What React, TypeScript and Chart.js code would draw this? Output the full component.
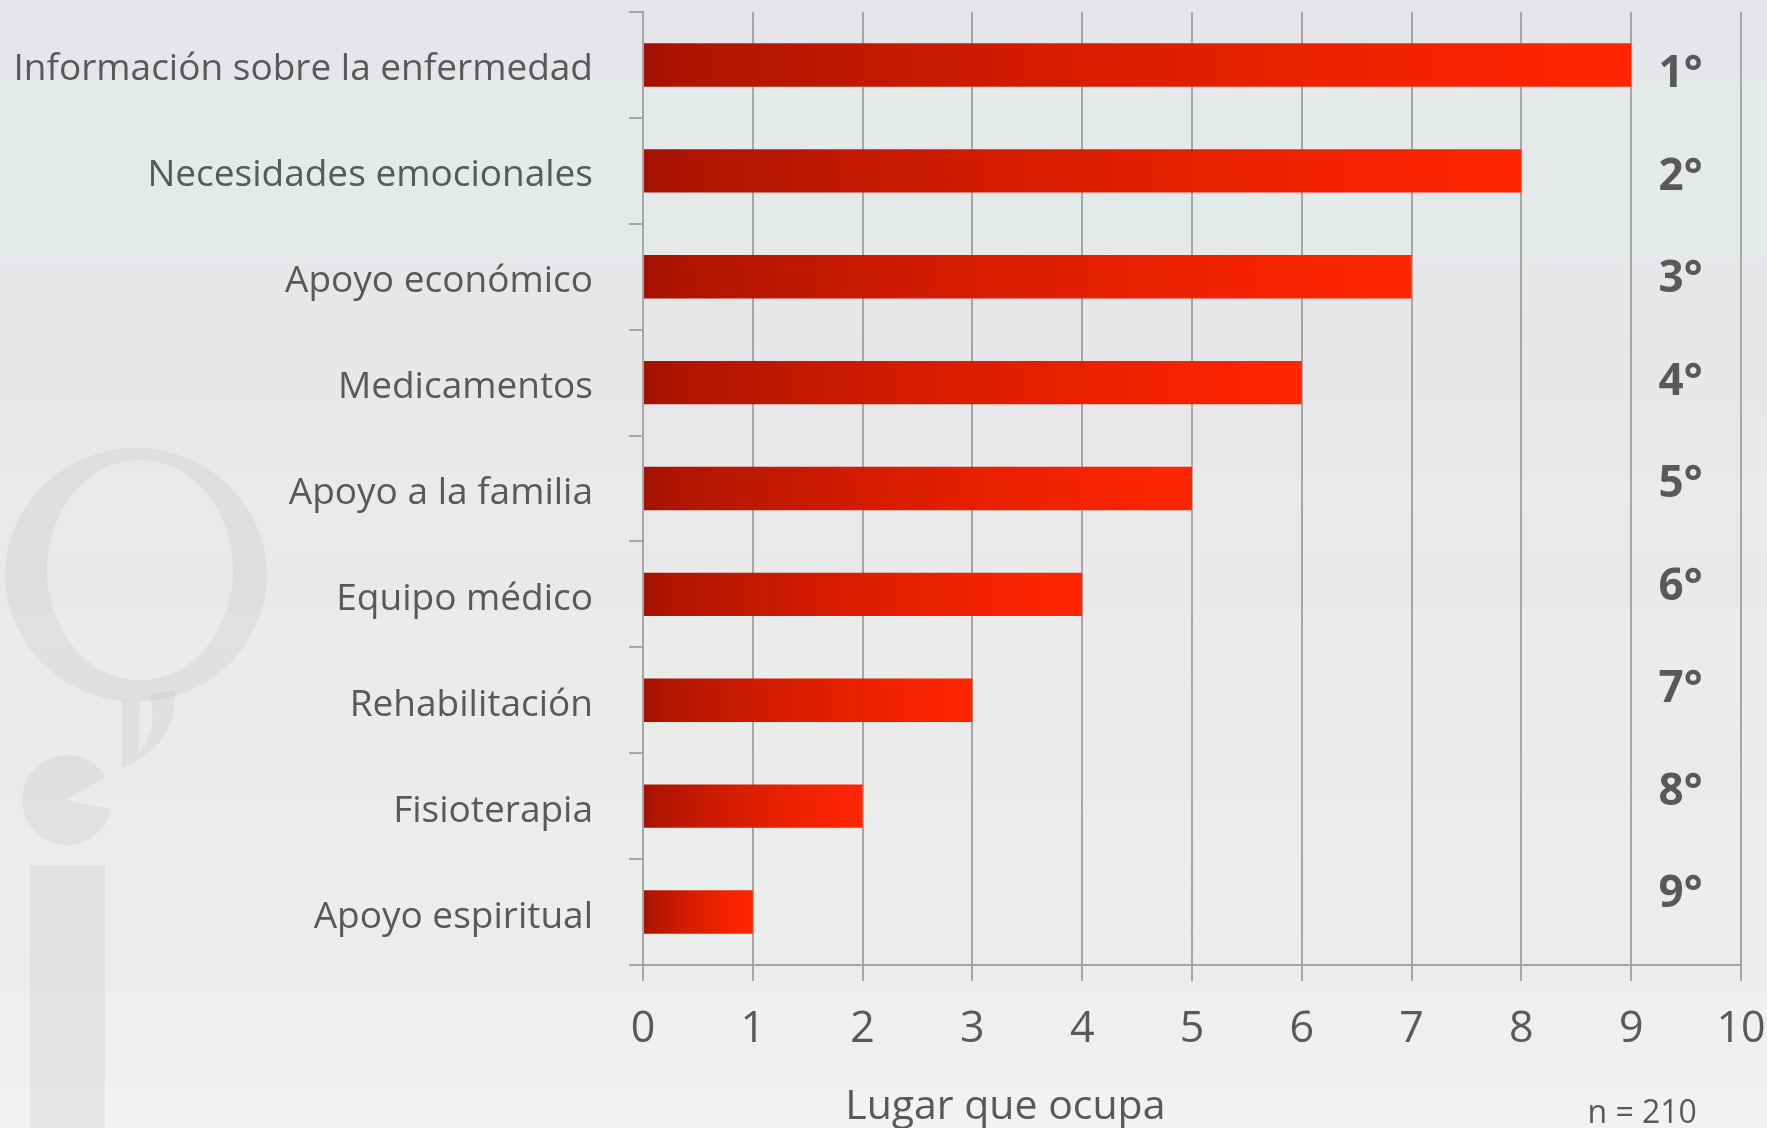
import React, { useEffect, useRef } from 'react';
import { Chart, registerables } from 'chart.js';

Chart.register(...registerables);

// ---- Data ----
const categories: string[] = [
  'Información sobre la enfermedad',
  'Necesidades emocionales',
  'Apoyo económico',
  'Medicamentos',
  'Apoyo a la familia',
  'Equipo médico',
  'Rehabilitación',
  'Fisioterapia',
  'Apoyo espiritual',
];
const values: number[] = [9, 8, 7, 6, 5, 4, 3, 2, 1];
const ranks: string[] = ['1°', '2°', '3°', '4°', '5°', '6°', '7°', '8°', '9°'];
const xMin = 0;
const xMax = 10;
const xStep = 1;
const axisTitle = 'Lugar que ocupa';
const sampleNote = 'n = 210';

const FONT = "'Open Sans', 'DejaVu Sans', sans-serif";
const TEXT = '#595959';
const GRID = '#a6a6a6';

const backgroundPlugin = {
  id: 'slideBackground',
  beforeDraw(chart: any) {
    const { ctx, width, height } = chart;
    ctx.save();
    const g = ctx.createLinearGradient(0, 0, 0, height);
    const stops: [number, string][] = [
      [0, '#e4e4e9'],
      [0.065, '#e5e5ea'],
      [0.075, '#e6e9ea'],
      [0.22, '#e6e9ea'],
      [0.235, '#e7e7ea'],
      [0.41, '#e8e8ea'],
      [0.425, '#e9eaea'],
      [0.535, '#e9e9e9'],
      [0.545, '#e9ece9'],
      [0.7, '#e9ebea'],
      [0.72, '#ebedec'],
      [0.87, '#ececec'],
      [0.885, '#efefef'],
      [0.962, '#efefef'],
      [0.966, '#f2f2f2'],
      [1, '#f2f2f2'],
    ];
    stops.forEach(([o, c]) => g.addColorStop(o, c));
    ctx.fillStyle = g;
    ctx.fillRect(0, 0, width, height);

    // faint logo (speech-bubble "i")
    ctx.fillStyle = 'rgba(0,0,0,0.045)';
    ctx.beginPath();
    ctx.ellipse(136, 575, 131, 127, 0, 0, Math.PI * 2);
    ctx.ellipse(140, 570, 93, 110, 0, 0, Math.PI * 2, true);
    ctx.fill('evenodd');
    ctx.beginPath();
    ctx.moveTo(122, 700);
    ctx.lineTo(140, 702);
    ctx.lineTo(138, 760);
    ctx.lineTo(122, 768);
    ctx.closePath();
    ctx.moveTo(175, 690);
    ctx.quadraticCurveTo(178, 745, 122, 768);
    ctx.lineTo(140, 752);
    ctx.quadraticCurveTo(158, 728, 150, 695);
    ctx.closePath();
    ctx.fill();
    ctx.beginPath();
    ctx.moveTo(67, 800);
    ctx.arc(67, 800, 45, 0.2, Math.PI * 2 - 0.55);
    ctx.closePath();
    ctx.fill();
    ctx.fillRect(30, 865, 75, 263);
    ctx.restore();
  },
};

const annotationPlugin = {
  id: 'annotations',
  afterDraw(chart: any) {
    const { ctx } = chart;
    const xs = chart.scales.x;
    const ys = chart.scales.y;
    ctx.save();
    ctx.fillStyle = TEXT;
    ctx.textAlign = 'center';
    ctx.textBaseline = 'middle';
    ctx.font = `bold 44px ${FONT}`;
    const rx = xs.getPixelForValue(9.45);
    ranks.forEach((r, i) => {
      const y = ys.getPixelForValue(i) + 10 - 3.4 * i;
      ctx.fillText(r, rx, y);
    });
    ctx.textBaseline = 'alphabetic';
    ctx.font = `41px ${FONT}`;
    ctx.fillText(axisTitle, xs.getPixelForValue(3.3), 1119);
    ctx.font = `32px ${FONT}`;
    ctx.fillText(sampleNote, xs.getPixelForValue(9.1), 1123);
    ctx.restore();
  },
};

export default function App() {
  const canvasRef = useRef<HTMLCanvasElement | null>(null);

  useEffect(() => {
    if (!canvasRef.current) return;
    const chart = new Chart(canvasRef.current, {
      type: 'bar',
      data: {
        labels: categories,
        datasets: [
          {
            data: values,
            barPercentage: 0.41,
            categoryPercentage: 1,
            borderWidth: 0,
            backgroundColor: (c: any) => {
              const ch = c.chart;
              if (!ch.chartArea || !ch.scales.x) return '#d01c00';
              const xs = ch.scales.x;
              const v = c.raw ?? 1;
              const x0 = xs.getPixelForValue(0);
              const x1 = xs.getPixelForValue(v);
              const g = ch.ctx.createLinearGradient(x0, 0, x1, 0);
              g.addColorStop(0, '#a31100');
              g.addColorStop(0.06, '#b01500');
              g.addColorStop(0.4, '#d41c00');
              g.addColorStop(0.72, '#ef2200');
              g.addColorStop(1, '#ff2600');
              return g;
            },
          },
        ],
      },
      options: {
        indexAxis: 'y',
        responsive: true,
        maintainAspectRatio: false,
        animation: false,
        layout: { padding: { top: 12, right: 26, bottom: 0, left: 0 } },
        plugins: {
          legend: { display: false },
          tooltip: { enabled: false },
        },
        scales: {
          x: {
            type: 'linear',
            min: xMin,
            max: xMax,
            ticks: {
              stepSize: xStep,
              color: TEXT,
              font: { family: FONT, size: 43 },
              padding: 23,
              maxRotation: 0,
            },
            grid: {
              color: GRID,
              lineWidth: 2,
              tickLength: 16,
              drawOnChartArea: true,
            },
            border: { display: true, color: GRID, width: 2 },
            afterFit: (s: any) => {
              s.height = 163;
              s.paddingLeft = 0;
              s.paddingRight = 0;
            },
          },
          y: {
            type: 'category',
            ticks: {
              color: TEXT,
              font: { family: FONT, size: 37 },
              padding: 36,
              labelOffset: 5,
            },
            grid: {
              offset: true,
              color: GRID,
              lineWidth: 2,
              tickLength: 14,
              drawOnChartArea: false,
            },
            border: { display: true, color: GRID, width: 2 },
            afterFit: (s: any) => {
              s.width = 643;
              s.paddingTop = 0;
              s.paddingBottom = 0;
            },
          },
        },
      },
      plugins: [backgroundPlugin, annotationPlugin],
    } as any);
    return () => chart.destroy();
  }, []);

  return (
    <div style={{ position: 'fixed', left: 0, top: 0, width: 1767, height: 1128 }}>
      <canvas ref={canvasRef} />
    </div>
  );
}
